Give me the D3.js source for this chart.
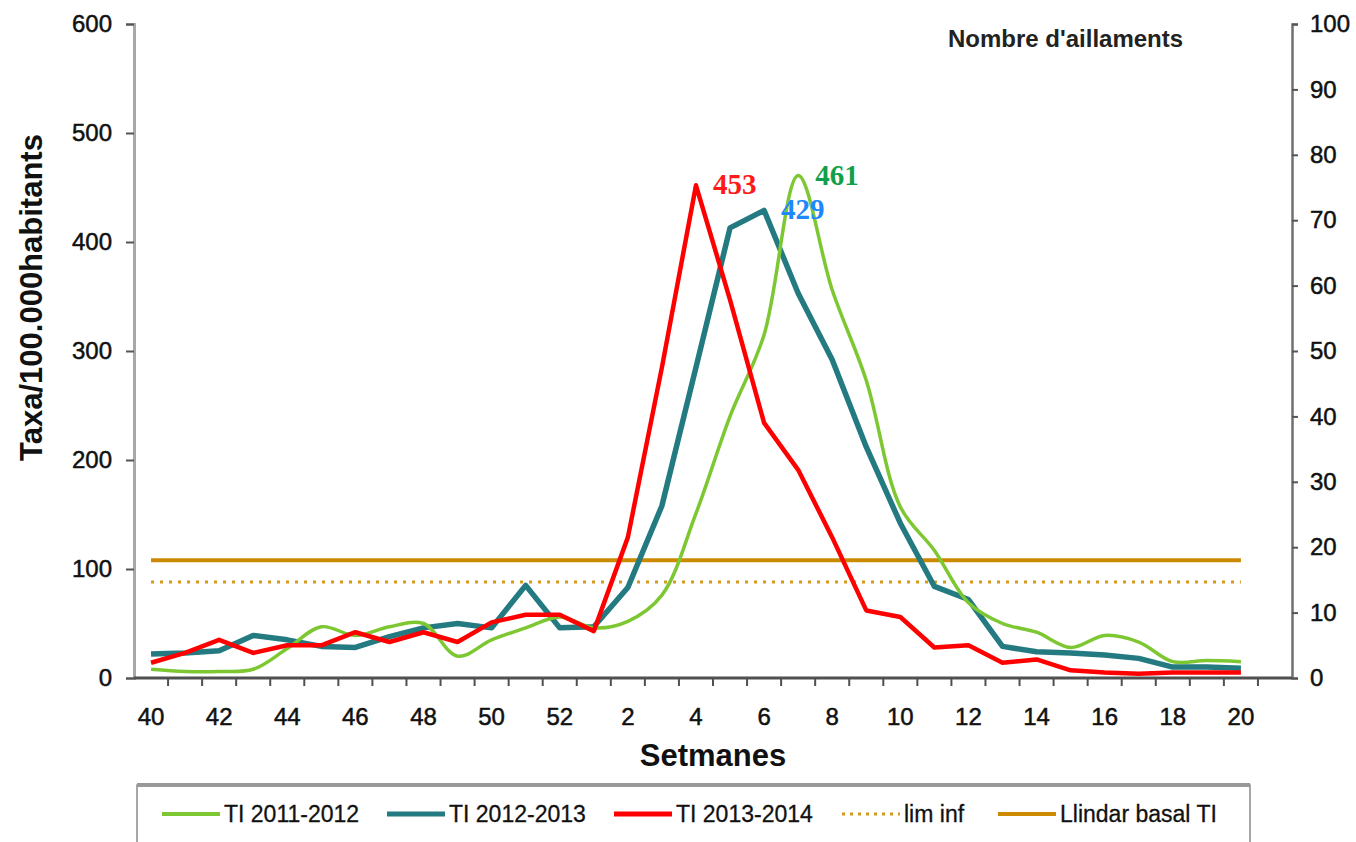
<!DOCTYPE html>
<html lang="ca">
<head>
<meta charset="utf-8">
<title>Taxa TI</title>
<script src="https://d3js.org/d3.v7.min.js"></script>
<style>
  body { margin: 0; background: #fff; }
  text { font-family: Arial, "Liberation Sans", sans-serif; fill: #111; }
</style>
</head>
<body>
<script>
// week labels on the x axis (one category each, last slot is empty)
const weeks = [40,41,42,43,44,45,46,47,48,49,50,51,52,1,2,3,4,5,6,7,8,9,10,11,12,13,14,15,16,17,18,19,20];

// rate per 100.000 inhabitants
const ti1112 = [8,6,6,8,27,47,39,47,50,20,35,46,56,46,52,76,151,240,315,461,356,273,157,117,69,50,42,28,39,33,15,16,15];
const ti1213 = [22,23,25,39,35,29,28,38,46,50,46,85,46,47,83,158,285,413,429,353,292,212,142,84,72,29,24,23,21,18,10,10,9];
const ti1314 = [14,23,35,23,30,30,42,33,42,33,51,58,58,43,129,285,452,347,234,191,129,62,56,28,30,14,17,7,5,4,5,5,5];
const limInf = 88;
const llindar = 108;

const leftTicks = [0,100,200,300,400,500,600];
const rightTicks = [0,10,20,30,40,50,60,70,80,90,100];

const peaks = [
  {serie: ti1314, text: "453", color: "#ff1a1a"},
  {serie: ti1112, text: "461", color: "#11a04a"},
  {serie: ti1213, text: "429", color: "#1e88ff"}
];

const W = 1356, H = 842;
const plotL = 134, plotR = 1292, plotT = 24, plotB = 678;

const svg = d3.select("body").append("svg")
    .attr("width", W).attr("height", H);

const slots = weeks.map((d, i) => i).concat([weeks.length]);
const x = d3.scaleBand().domain(slots).range([plotL, plotR]).padding(0);
const cx = i => x(i) + x.bandwidth() / 2;

const y = d3.scaleLinear().domain([0, 600]).range([plotB, plotT]);
const y2 = d3.scaleLinear().domain([0, 100]).range([plotB, plotT]);

// threshold lines
svg.append("line")
    .attr("x1", cx(0)).attr("x2", cx(weeks.length - 1))
    .attr("y1", y(limInf)).attr("y2", y(limInf))
    .attr("stroke", "#d49a1c").attr("stroke-width", 3)
    .attr("stroke-dasharray", "3,6");
svg.append("line")
    .attr("x1", cx(0)).attr("x2", cx(weeks.length - 1))
    .attr("y1", y(llindar)).attr("y2", y(llindar))
    .attr("stroke", "#cc8a00").attr("stroke-width", 4);

// series
const straight = d3.line().x((d, i) => cx(i)).y(d => y(d));
const smooth = d3.line().x((d, i) => cx(i)).y(d => y(d)).curve(d3.curveCatmullRom.alpha(0.5));

svg.append("path").datum(ti1213)
    .attr("d", straight).attr("fill", "none")
    .attr("stroke", "#237a80").attr("stroke-width", 5.5).attr("stroke-linejoin", "round");
svg.append("path").datum(ti1112)
    .attr("d", smooth).attr("fill", "none")
    .attr("stroke", "#7dc832").attr("stroke-width", 3.5);
svg.append("path").datum(ti1314)
    .attr("d", straight).attr("fill", "none")
    .attr("stroke", "#ff0000").attr("stroke-width", 4.5).attr("stroke-linejoin", "round");

// peak labels
peaks.forEach(p => {
  const v = d3.max(p.serie);
  const i = p.serie.indexOf(v);
  svg.append("text")
      .attr("x", cx(i) + 17).attr("y", y(v) + 9)
      .style("font-family", "'Liberation Serif', 'Times New Roman', serif")
      .style("font-weight", "bold").style("font-size", "29px")
      .style("fill", p.color)
      .text(p.text);
});

// left axis
const gl = svg.append("g").attr("transform", `translate(${plotL},0)`)
    .call(d3.axisLeft(y).tickValues(leftTicks).tickSize(8).tickPadding(14));
gl.select(".domain").attr("stroke", "#a8a8a8").attr("stroke-width", 3);
gl.selectAll(".tick line").attr("stroke", "#555").attr("stroke-width", 2);
gl.selectAll(".tick text").style("font-size", "24px").style("fill", "#111")
    .style("stroke", "#111").style("stroke-width", 0.5);

// right axis
const gr = svg.append("g").attr("transform", `translate(${plotR},0)`)
    .call(d3.axisRight(y2).tickValues(rightTicks).tickSize(6).tickPadding(12));
gr.select(".domain").attr("stroke", "#707070").attr("stroke-width", 2.5);
gr.selectAll(".tick line").attr("stroke", "#555").attr("stroke-width", 2);
gr.selectAll(".tick text").style("font-size", "24px").style("fill", "#111")
    .style("stroke", "#111").style("stroke-width", 0.5);

// bottom axis: ticks between categories, labels every second week
const gb = svg.append("g").attr("transform", `translate(0,${plotB})`);
gb.append("line").attr("x1", plotL).attr("x2", plotR)
    .attr("stroke", "#505050").attr("stroke-width", 3);
gb.selectAll("line.tk").data(slots.slice(1)).join("line")
    .attr("class", "tk")
    .attr("x1", d => x(d)).attr("x2", d => x(d))
    .attr("y1", 0).attr("y2", 8)
    .attr("stroke", "#505050").attr("stroke-width", 2);
gb.selectAll("text").data(weeks.filter((d, i) => i % 2 === 0)).join("text")
    .attr("x", d => cx(weeks.indexOf(d)))
    .attr("y", 47)
    .attr("text-anchor", "middle")
    .style("font-size", "24px")
    .style("stroke", "#111").style("stroke-width", 0.5)
    .text(d => d);

// axis titles
svg.append("text")
    .attr("transform", `translate(42,${(130 + 465) / 2}) rotate(-90)`)
    .attr("text-anchor", "middle")
    .style("font-size", "31px").style("font-weight", "bold")
    .text("Taxa/100.000habitants");
svg.append("text")
    .attr("x", 713).attr("y", 766)
    .attr("text-anchor", "middle")
    .style("font-size", "31px").style("font-weight", "bold")
    .text("Setmanes");
svg.append("text")
    .attr("x", 948).attr("y", 47)
    .style("font-size", "24px").style("font-weight", "bold")
    .style("fill", "#222")
    .text("Nombre d'aillaments");

// legend
const legItems = [
  {name: "TI 2011-2012", color: "#7dc832", w: 4, dash: null, x: 162},
  {name: "TI 2012-2013", color: "#237a80", w: 5, dash: null, x: 387},
  {name: "TI 2013-2014", color: "#ff0000", w: 5, dash: null, x: 614},
  {name: "lim inf", color: "#d49a1c", w: 3, dash: "3,5", x: 842},
  {name: "Llindar basal  TI", color: "#cc8a00", w: 4, dash: null, x: 998}
];
const lg = svg.append("g");
lg.append("rect").attr("x", 137).attr("y", 785).attr("width", 1113).attr("height", 80)
    .attr("fill", "#fff").attr("stroke", "#8a8a8a").attr("stroke-width", 1.5);
lg.append("line").attr("x1", 137).attr("x2", 1250).attr("y1", 785).attr("y2", 785)
    .attr("stroke", "#999").attr("stroke-width", 4);
const li = lg.selectAll("g.item").data(legItems).join("g")
    .attr("class", "item")
    .attr("transform", d => `translate(${d.x},814)`);
li.append("line").attr("x1", 0).attr("x2", 58)
    .attr("stroke", d => d.color).attr("stroke-width", d => d.w)
    .attr("stroke-dasharray", d => d.dash);
li.append("text").attr("x", 62).attr("y", 8)
    .style("font-size", "23px")
    .style("stroke", "#111").style("stroke-width", 0.3)
    .text(d => d.name);
</script>
</body>
</html>
